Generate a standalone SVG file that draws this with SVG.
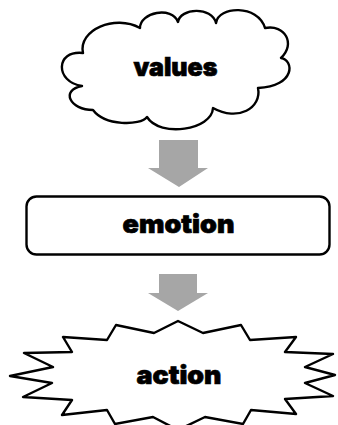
<svg xmlns="http://www.w3.org/2000/svg" width="338" height="425" viewBox="0 0 338 425">
<style>
.shape{fill:#fff;stroke:#000;stroke-width:2.4;stroke-linejoin:round}
.lbl{font-family:Inter,Roboto,"Liberation Sans",sans-serif;font-weight:900;font-size:26px;fill:#000;stroke:#000;stroke-width:0.7;text-anchor:middle}
.arrow{fill:#a6a6a6;stroke:none}
</style>
<rect width="338" height="425" fill="#fff"/>
<g id="values">
<path class="shape" d="M83,53 C78,30 115,14 140,28 C140,12 172,6 178,22 C180,8 212,6 216,23 C218,6 258,4 265,28 C285,24 296,44 281,58 C294,60 296,86 258,88 C262,108 238,122 213,108 C212,130 160,138 147,117 C140,126 105,126 93,110 C70,110 60,90 82,86 C55,82 55,50 83,53 Z"/>
<text class="lbl" x="175.5" y="76" textLength="84" lengthAdjust="spacingAndGlyphs">values</text>
</g>
<g id="emotion">
<rect class="shape" x="26.5" y="196.5" width="303" height="58" rx="10" ry="10"/>
<text class="lbl" x="178.5" y="233" textLength="112" lengthAdjust="spacingAndGlyphs">emotion</text>
</g>
<g id="action">
<path class="shape" stroke-width="2" d="M178,321 L203,333 L241,325 L250,340 L296,337 L285,352 L333,354 L305,367 L335,375 L305,383 L333,396 L285,399 L296,414 L251,410 L243,424 L205,417 L178,430 L153,417 L115,424 L107,410 L62,415 L72,400 L23,397 L52,383 L10,376 L53,367 L24,353 L72,352 L63,337 L107,340 L116,325 L154,333 Z"/>
<text class="lbl" x="179" y="384" textLength="85" lengthAdjust="spacingAndGlyphs">action</text>
</g>
<g id="connectors">
<polygon class="arrow" points="159,140 198,140 198,168 208,168 179,187 148,168 159,168"/>
<polygon class="arrow" points="159,274 197,274 197,293 208,293 178,311 148,293 159,293"/>
</g>
</svg>
